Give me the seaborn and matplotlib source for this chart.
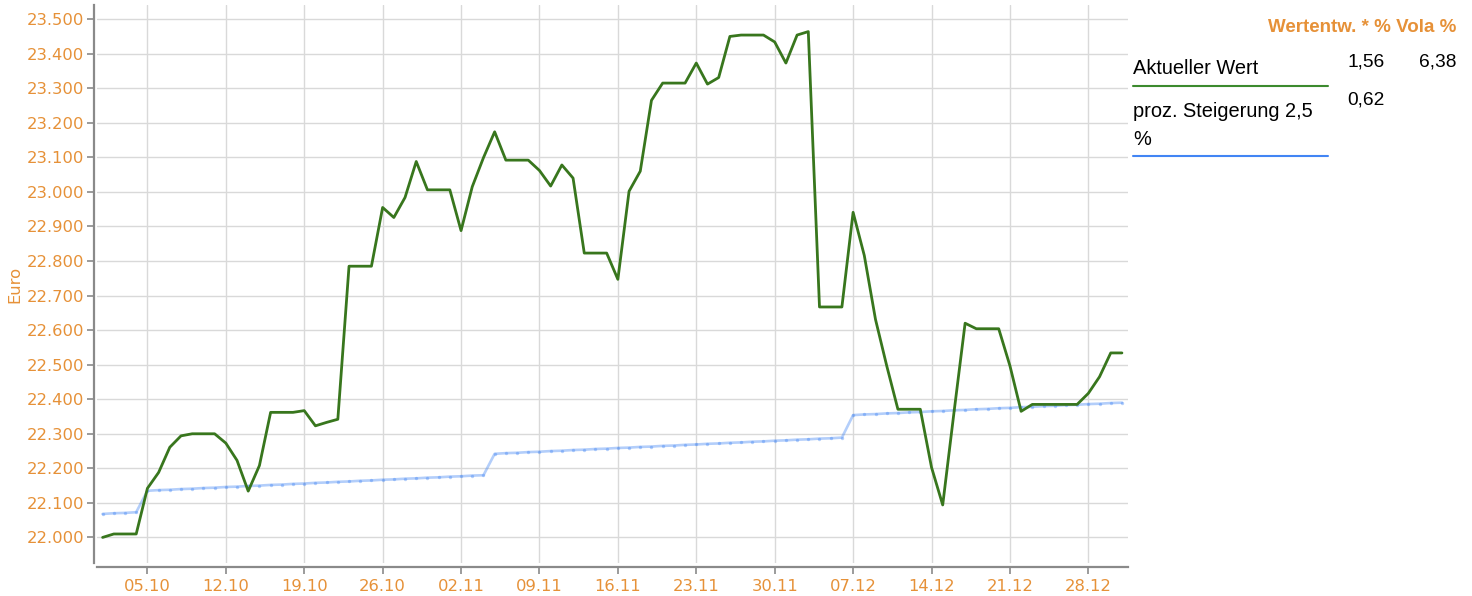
import numpy as np
import pandas as pd
import matplotlib
matplotlib.use("Agg")
import matplotlib.pyplot as plt
import matplotlib.dates as mdates
from matplotlib.ticker import FuncFormatter, MultipleLocator
from matplotlib.lines import Line2D
import seaborn as sns

# ---------------- data ----------------
start_day = "2020-10-01"
n_days = 92

aktueller_wert = [
    22000, 22010, 22010, 22010, 22142, 22188, 22261, 22294, 22300, 22300,
    22300, 22273, 22223, 22134, 22208, 22362, 22362, 22362, 22367, 22323,
    22333, 22342, 22785, 22785, 22785, 22955, 22926, 22984, 23088, 23006,
    23006, 23006, 22888, 23015, 23099, 23174, 23092, 23092, 23092, 23062,
    23017, 23078, 23040, 22823, 22823, 22823, 22747, 23002, 23060, 23265,
    23315, 23315, 23315, 23373, 23312, 23331, 23450, 23454, 23454, 23454,
    23434, 23373, 23454, 23464, 22667, 22667, 22667, 22941, 22816, 22631,
    22497, 22371, 22371, 22371, 22203, 22094, 22360, 22620, 22604, 22604,
    22604, 22497, 22365, 22385, 22385, 22385, 22385, 22385, 22417, 22465,
    22534, 22534,
]

steigerung = [
    22068, 22070, 22071, 22073, 22135, 22137, 22138, 22140, 22141, 22143,
    22144, 22146, 22147, 22149, 22150, 22152, 22153, 22155, 22156, 22158,
    22159, 22161, 22162, 22164, 22165, 22167, 22168, 22170, 22171, 22173,
    22174, 22176, 22177, 22179, 22180, 22242, 22244, 22245, 22247, 22248,
    22250, 22251, 22253, 22254, 22256, 22257, 22259, 22260, 22262, 22263,
    22265, 22266, 22268, 22269, 22271, 22272, 22274, 22275, 22277, 22278,
    22280, 22281, 22283, 22284, 22286, 22287, 22289, 22354, 22356, 22357,
    22359, 22360, 22362, 22363, 22365, 22366, 22368, 22369, 22371, 22372,
    22374, 22375, 22377, 22378, 22380, 22381, 22383, 22384, 22386, 22387,
    22389, 22390,
]

legend_names = ["Aktueller Wert", "proz. Steigerung 2,5\n%"]
wertentw = ["1,56", "0,62"]
vola = ["6,38", ""]
header = "Wertentw. * % Vola %"

# ---------------- style ----------------
orange = "#e69138"
green = "#38761d"
blue = "#4285f4"
grid_c = "#d9d9d9"
spine_c = "#8a8a8a"

sns.set_style("white")
plt.rcParams["font.family"] = ["Liberation Sans", "DejaVu Sans"]
tick_font = "DejaVu Sans"   # wider digits, close to the spaced-out labels of the original

dates = pd.date_range(start_day, periods=n_days, freq="D")
df = pd.DataFrame({"Datum": dates, "Aktueller Wert": aktueller_wert, "Steigerung": steigerung})

fig = plt.figure(figsize=(14.72, 5.96), dpi=100)
W, H = 1472, 596
ax = fig.add_axes([97 / W, 1 - 563 / H, (1128 - 97) / W, (563 - 5) / H])

sns.lineplot(data=df, x="Datum", y="Steigerung", ax=ax, color=blue, alpha=0.4,
             linewidth=1.9, marker="o", markersize=2.4, markeredgewidth=0)
sns.lineplot(data=df, x="Datum", y="Aktueller Wert", ax=ax, color=green, linewidth=2.0)

ax.set_xlim(dates[0] - pd.Timedelta(hours=12), dates[-1] + pd.Timedelta(hours=13))
ax.set_ylim(21926, 23541)

ax.xaxis.set_major_locator(mdates.WeekdayLocator(byweekday=mdates.MO))
ax.xaxis.set_major_formatter(mdates.DateFormatter("%d.%m"))
ax.yaxis.set_major_locator(MultipleLocator(100))
ax.yaxis.set_major_formatter(FuncFormatter(lambda v, p: f"{v:,.0f}".replace(",", ".")))

ax.grid(True, color=grid_c, linewidth=1.0)
ax.set_axisbelow(True)
ax.set_xlabel("")
ax.set_ylabel("Euro", color=orange, fontsize=11.8, family=tick_font, labelpad=3)

sns.despine(ax=ax, offset=dict(left=2, bottom=3))
for s in ["left", "bottom"]:
    ax.spines[s].set_color(spine_c)
    ax.spines[s].set_linewidth(1.6)
ax.tick_params(axis="both", colors=spine_c, labelcolor=orange,
               length=5, width=1.2, pad=2, direction="out", left=True, bottom=True)
ax.tick_params(axis="x", pad=3.5)
for lab in ax.get_xticklabels() + ax.get_yticklabels():
    lab.set_fontsize(11.8)
    lab.set_family(tick_font)

# ---------------- legend table on the right ----------------
def fx(px):
    return px / W

def fy(py):
    return 1 - py / H

fig.text(fx(1456), fy(27), header, color=orange, fontsize=13.5, fontweight="bold",
         ha="right", va="center")

fig.text(fx(1133), fy(69), legend_names[0], color="black", fontsize=14.4, ha="left", va="center")
fig.add_artist(Line2D([fx(1133), fx(1328)], [fy(86), fy(86)], color="#3c8a2e", linewidth=1.5))
fig.text(fx(1385), fy(62), wertentw[0], color="black", fontsize=13.8, ha="right", va="center")
fig.text(fx(1456), fy(62), vola[0], color="black", fontsize=13.8, ha="right", va="center")

fig.text(fx(1133), fy(125), legend_names[1], color="black", fontsize=14.4, ha="left", va="center",
         linespacing=1.6)
fig.add_artist(Line2D([fx(1133), fx(1328)], [fy(156), fy(156)], color=blue, linewidth=1.5))
fig.text(fx(1385), fy(100), wertentw[1], color="black", fontsize=13.8, ha="right", va="center")

fig.savefig("out.png", dpi=100)
